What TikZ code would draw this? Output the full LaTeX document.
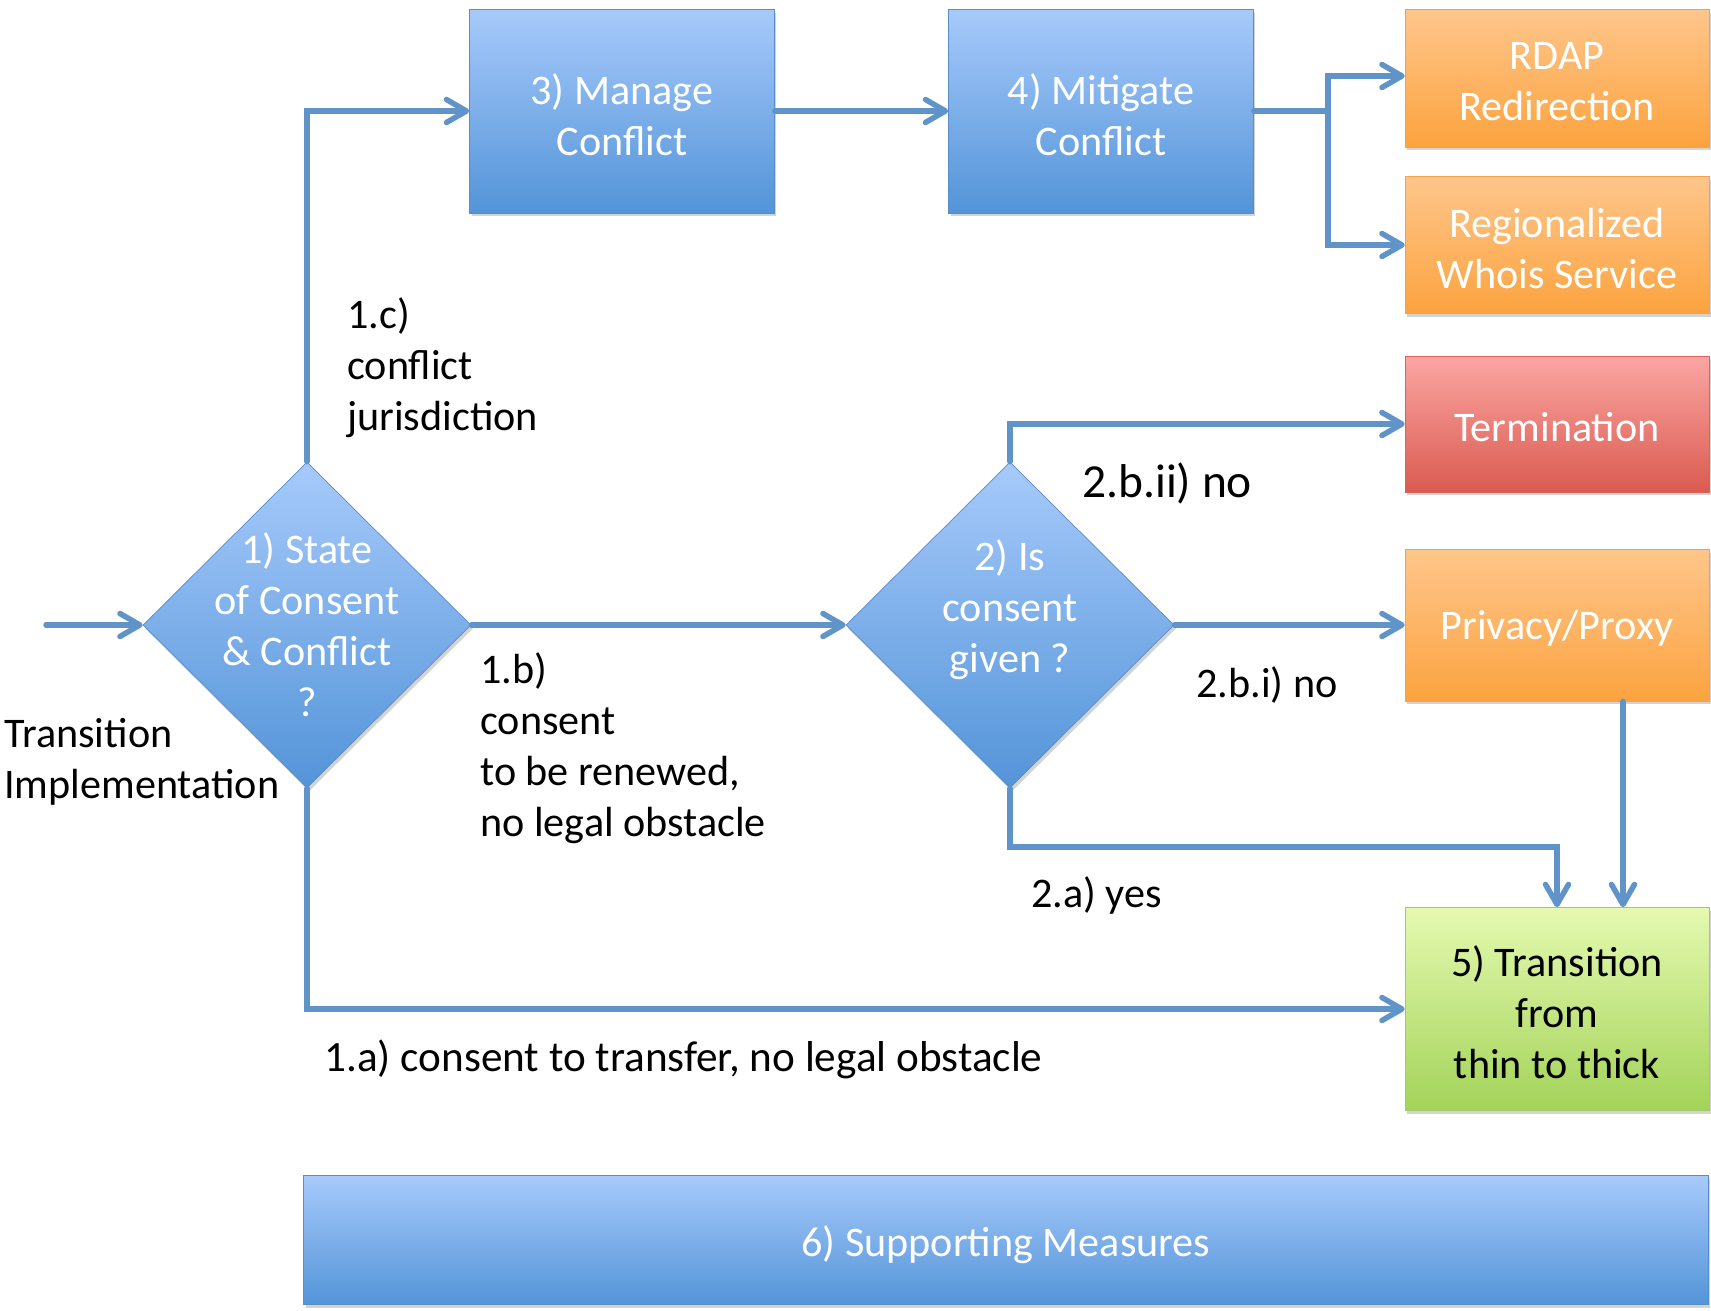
\documentclass[tikz,border=0pt]{standalone}
\usepackage{fontspec}
\setmainfont{Carlito}
\usepackage{tikz}
\usetikzlibrary{shapes, positioning, arrows.meta, shadows, calc}
\definecolor{boxblue}{HTML}{A7CAFB}
\definecolor{boxbluedark}{HTML}{5394D8}
\definecolor{boxblueline}{HTML}{5A8DC6}
\definecolor{boxorange}{HTML}{FEC68B}
\definecolor{boxorangedark}{HTML}{FCA33F}
\definecolor{boxorangeline}{HTML}{F6A04A}
\definecolor{boxred}{HTML}{FBA6A3}
\definecolor{boxreddark}{HTML}{DA5B50}
\definecolor{boxredline}{HTML}{D9635A}
\definecolor{boxgreen}{HTML}{E5F9B0}
\definecolor{boxgreendark}{HTML}{A3D359}
\definecolor{boxgreenline}{HTML}{A5C86A}
\definecolor{connblue}{HTML}{6094C8}

\tikzset{
	shapebox/.style={rectangle, inner sep=0pt,
		drop shadow={opacity=0.35, shadow xshift=0.04cm, shadow yshift=-0.07cm}},
	bluebox/.style={shapebox, draw=boxblueline, top color=boxblue, bottom color=boxbluedark},
	orangebox/.style={shapebox, draw=boxorangeline, top color=boxorange, bottom color=boxorangedark},
	redbox/.style={shapebox, draw=boxredline, top color=boxred, bottom color=boxreddark},
	greenbox/.style={shapebox, draw=boxgreenline, top color=boxgreen, bottom color=boxgreendark},
	decision/.style={diamond, aspect=1, minimum width=6.56cm, minimum height=6.52cm, inner sep=0pt,
		draw=boxblueline, top color=boxblue, bottom color=boxbluedark,
		drop shadow={opacity=0.35, shadow xshift=0.04cm, shadow yshift=-0.07cm}},
	wtxt/.style={align=center, text=white, inner sep=0pt, yshift=-0.07cm, font=\fontsize{24}{29}\selectfont},
	lbl/.style={align=left, anchor=west, inner sep=0pt, font=\fontsize{24}{29}\selectfont},
	conn/.style={draw=connblue, line width=0.11cm, line cap=round, line join=miter,
		-{Straight Barb[length=0.4cm, width=0.46cm, line cap=round, line join=round]}},
	plain/.style={draw=connblue, line width=0.11cm, line cap=round, line join=miter}
}

\begin{document}
\begin{tikzpicture}[x={(0.02cm,0)}, y={(0,-0.02cm)}]
	\useasboundingbox (0,0) rectangle (1711,1311);

	% process boxes
	\node[bluebox, minimum width=6.1cm, minimum height=4.08cm,
		label={[wtxt]center:{3) Manage\\Conflict}}] (manage) at (622,111) {};
	\node[bluebox, minimum width=6.1cm, minimum height=4.08cm,
		label={[wtxt]center:{4) Mitigate\\Conflict}}] (mitigate) at (1101,111) {};
	\node[orangebox, minimum width=6.08cm, minimum height=2.76cm,
		label={[wtxt]center:{RDAP\\Redirection}}] (rdap) at (1557,78) {};
	\node[orangebox, minimum width=6.08cm, minimum height=2.74cm,
		label={[wtxt]center:{Regionalized\\Whois Service}}] (whois) at (1557,245) {};
	\node[redbox, minimum width=6.08cm, minimum height=2.72cm,
		label={[wtxt]center:Termination}] (term) at (1557,424) {};
	\node[orangebox, minimum width=6.08cm, minimum height=3.04cm,
		label={[wtxt]center:Privacy/Proxy}] (privacy) at (1557,625) {};
	\node[greenbox, minimum width=6.08cm, minimum height=4.06cm,
		label={[wtxt, text=black]center:{5) Transition\\from\\thin to thick}}] (trans) at (1557,1009) {};
	\node[bluebox, minimum width=28.1cm, minimum height=2.58cm,
		label={[wtxt, yshift=-0.03cm]center:6) Supporting Measures}] (support) at (1006,1240) {};

	% decisions
	\node[decision] (state) at (307,625) {};
	\node[wtxt, yshift=0.07cm] at (state) {1) State\\of Consent\\\& Conflict\\?};
	\node[decision] (given) at (1010,625) {};
	\node[wtxt] at ([yshift=0.37cm]given.center) {2) Is\\consent\\given ?};

	% connectors
	\coordinate (start) at (46,625);
	\coordinate (fork) at (1328,111);
	\draw[conn] (start) -- (state.west);
	\draw[conn] (state.north) |- (manage.west);
	\draw[conn] (manage) -- (mitigate);
	\draw[plain] (mitigate.east) -- (fork);
	\draw[conn] (fork) |- ([yshift=0.04cm]rdap.west);
	\draw[conn] (fork) |- (whois.west);
	\draw[conn] (state.east) -- (given.west);
	\draw[conn] (given.north) |- (term.west);
	\draw[conn] (given.east) -- (privacy.west);
	\draw[conn] ([xshift=1.32cm]privacy.south) -- ([xshift=1.32cm]trans.north);
	\draw[conn] (given.south) |- ([yshift=1.2cm]trans.north) -- (trans.north);
	\draw[conn] (state.south) |- (trans.west);

	% labels
	\node[lbl] (lc) at (347,368) {1.c)\\conflict\\jurisdiction};
	\node[lbl] (lb) at (480,748) {1.b)\\consent\\to be renewed,\\no legal obstacle};
	\node[lbl] (limpl) at (4,762) {Transition\\Implementation};
	\node[lbl, font=\fontsize{27}{32}\selectfont] (lbii) at (1082,483) {2.b.ii) no};
	\node[lbl] (lbi) at (1196,685) {2.b.i) no};
	\node[lbl] (la2) at (1031,895) {2.a) yes};
	\node[lbl, font=\fontsize{24.6}{29}\selectfont] (la1) at (324,1059) {1.a) consent to transfer, no legal obstacle};
\end{tikzpicture}
\end{document}
